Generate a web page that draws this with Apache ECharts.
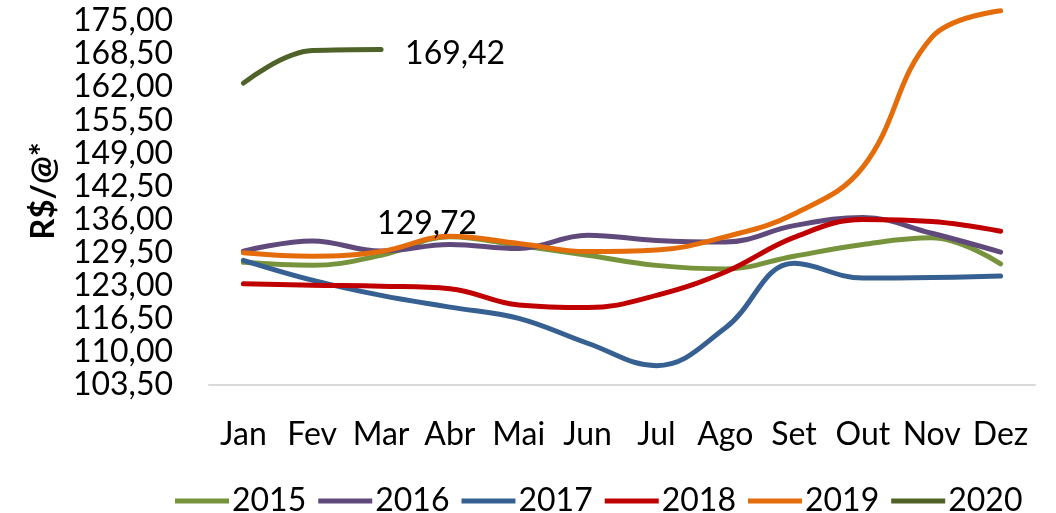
<!DOCTYPE html>
<html>
<head>
<meta charset="utf-8">
<script src="https://cdn.jsdelivr.net/npm/echarts@6/dist/echarts.min.js"></script>
<style>
html,body{margin:0;padding:0;background:#fff;}
#chart{width:1056px;height:513px;}
</style>
</head>
<body>
<div id="chart"></div>
<script>
const categories = ['Jan','Fev','Mar','Abr','Mai','Jun','Jul','Ago','Set','Out','Nov','Dez'];
const seriesNames = ['2015','2016','2017','2018','2019','2020'];
const s2015 = [127.6, 127.0, 129.0, 132.6, 130.9, 129.0, 127.0, 126.3, 128.8, 131.1, 132.4, 127.3];
const s2016 = [129.8, 131.8, 129.8, 131.1, 130.3, 132.9, 131.9, 131.6, 134.8, 136.4, 133.3, 129.6];
const s2017 = [128.0, 124.1, 121.1, 118.8, 116.6, 111.7, 107.3, 114.7, 127.4, 124.5, 124.6, 124.9];
const s2018 = [123.4, 123.1, 122.9, 122.4, 119.2, 118.7, 121.1, 125.7, 132.5, 136.0, 135.6, 133.7];
const s2019 = [129.5, 128.8, 129.72, 132.7, 131.3, 129.7, 130.0, 132.6, 137.1, 146.3, 171.8, 177.0];
const s2020 = [162.8, 169.2, 169.42];
const colors = ['#77933C', '#604A7B', '#376092', '#C00000', '#E46C0A', '#4F6228'];
const yTicks = {min: 103.5, max: 175, interval: 6.5};
// labelled points: [seriesIndex, dataIndex]
const labelled = [[4, 2], [5, 2]];

const fmt = v => Number(v).toFixed(2).replace('.', ',');
const allData = [s2015, s2016, s2017, s2018, s2019, s2020];
const FONT = 'Lato';

const series = allData.map((d, i) => ({
  name: seriesNames[i],
  type: 'line',
  data: d.map((v, j) => {
    const isLab = labelled.some(l => l[0] === i && l[1] === j);
    if (!isLab) return v;
    const lab = i === 5
      ? {show: true, position: 'right', distance: 24, offset: [0, 4]}
      : {show: true, position: 'right', distance: 0, offset: [-4, -28]};
    return {value: v, label: Object.assign(lab, {
      formatter: p => fmt(p.value), color: '#000', fontSize: 32, fontFamily: FONT})};
  }),
  smooth: 0.4,
  clip: false,
  symbol: 'circle',
  symbolSize: 0,
  showSymbol: true,
  lineStyle: {width: 5, color: colors[i], cap: 'round', join: 'round'},
  itemStyle: {color: colors[i]},
  label: {show: false},
  emphasis: {disabled: true},
  z: 2 + i,
  animation: false
}));

const chart = echarts.init(document.getElementById('chart'), null, {renderer: 'canvas'});
chart.setOption({
  animation: false,
  backgroundColor: '#fff',
  color: colors,
  grid: {left: 209, right: 21, top: 21, bottom: 128, containLabel: false},
  legend: {
    top: 480,
    left: 170,
    itemWidth: 54,
    itemHeight: 5,
    itemGap: 12,
    icon: 'path://M0,0 L54,0 L54,5 L0,5 Z',
    textStyle: {fontSize: 32, fontFamily: FONT, color: '#000', padding: [0, 0, 0, -2]},
    data: seriesNames
  },
  graphic: [{
    type: 'text',
    x: 43, y: 191,
    rotation: Math.PI / 2,
    style: {text: 'R$/@*', fontSize: 33, fontWeight: 'bold', fontFamily: FONT, fill: '#000',
            align: 'center', verticalAlign: 'middle'}
  }],
  xAxis: {
    type: 'category',
    data: categories,
    boundaryGap: true,
    axisLine: {show: true, lineStyle: {color: '#D9D9D9', width: 2}},
    axisTick: {show: false},
    axisLabel: {fontSize: 32, fontFamily: FONT, color: '#000', margin: 34, interval: 0},
    splitLine: {show: false}
  },
  yAxis: {
    type: 'value',
    min: yTicks.min,
    max: yTicks.max,
    interval: yTicks.interval,
    axisLine: {show: false},
    axisTick: {show: false},
    splitLine: {show: false},
    axisLabel: {fontSize: 32, fontFamily: FONT, color: '#000', margin: 36, formatter: fmt}
  },
  series: series
});
</script>
</body>
</html>
